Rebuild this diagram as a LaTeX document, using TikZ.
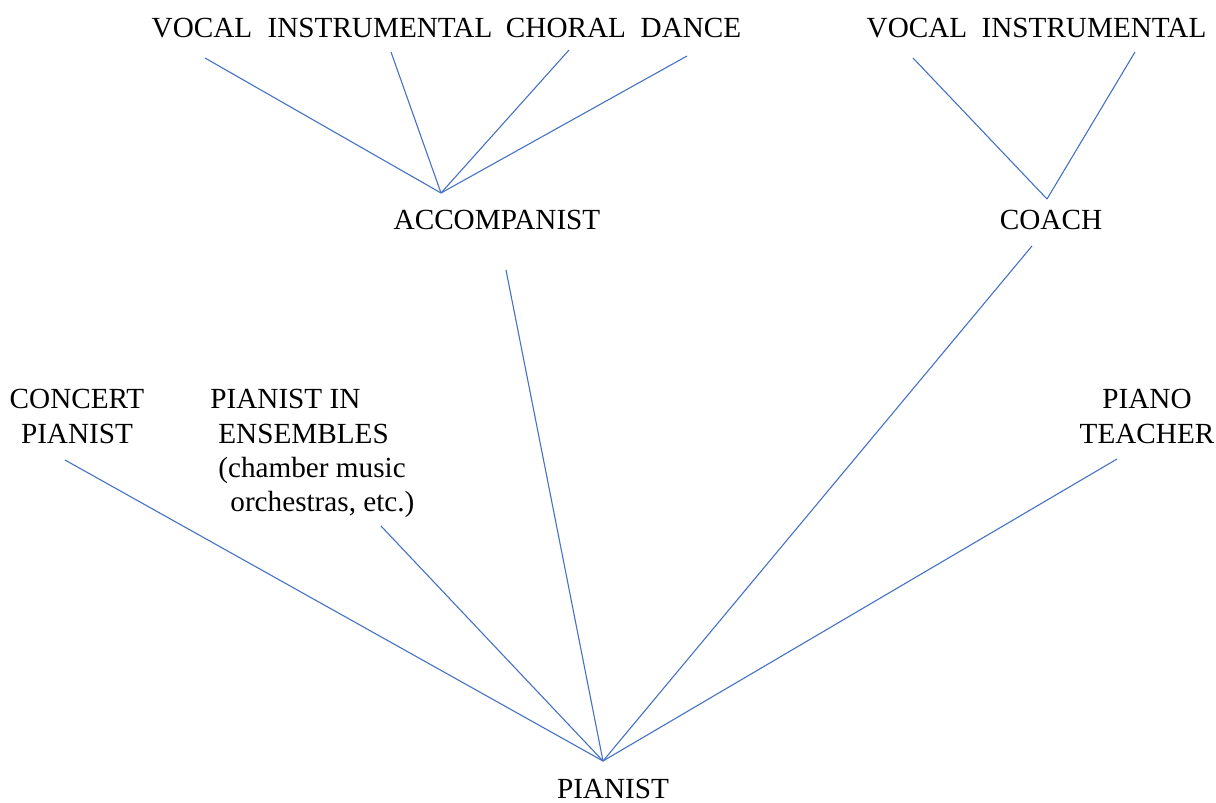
\documentclass[tikz,border=0pt]{standalone}
\usepackage{fontspec}
\setmainfont{Liberation Serif}
\definecolor{lineblue}{RGB}{68,114,196}
\tikzset{
  role/.style={font=\fontsize{14.6}{17.2}\selectfont, inner sep=0pt},
  link/.style={lineblue, line width=0.55pt},
}
\begin{document}
\begin{tikzpicture}[x=0.5pt,y=-0.5pt,line join=bevel]
  \useasboundingbox (0,0) rectangle (1216,803);

  % meeting points
  \coordinate (acc) at (441,193);
  \coordinate (coa) at (1047,199);
  \coordinate (pia) at (603,761);

  % free ends
  \coordinate (e-vocalA) at (205,58);
  \coordinate (e-instrA) at (391,52);
  \coordinate (e-choral) at (569,50);
  \coordinate (e-dance) at (687,56);
  \coordinate (e-vocalB) at (913,58);
  \coordinate (e-instrB) at (1135,52);
  \coordinate (e-concert) at (65,460);
  \coordinate (e-ensemble) at (381,526);
  \coordinate (e-accomp) at (506,270);
  \coordinate (e-coach) at (1032,246);
  \coordinate (e-teacher) at (1117,459);

  \node[role,anchor=base] (vocalA) at (202,37) {VOCAL};
  \node[role,anchor=base] (instrA) at (380,37) {INSTRUMENTAL};
  \node[role,anchor=base] (choral) at (566,37) {CHORAL};
  \node[role,anchor=base] (dance) at (691,37) {DANCE};
  \node[role,anchor=base] (vocalB) at (917,37) {VOCAL};
  \node[role,anchor=base] (instrB) at (1094,37) {INSTRUMENTAL};

  \node[role,anchor=base] (accomp) at (497,229) {ACCOMPANIST};
  \node[role,anchor=base] (coach) at (1051,229) {COACH};

  \node[role,anchor=north,align=center] (concert) at (77,389) {CONCERT\\PIANIST};
  \node[role,anchor=north west,align=left] (ensemble) at (210,389)
    {PIANIST IN\\\hspace*{4pt}ENSEMBLES\\\hspace*{4pt}(chamber music\\\hspace*{10pt}orchestras, etc.)};
  \node[role,anchor=north,align=center] (teacher) at (1147,389) {PIANO\\TEACHER};

  \node[role,anchor=base] (pianist) at (613,798) {PIANIST};

  \draw[link] (e-vocalA) -- (acc);
  \draw[link] (e-instrA) -- (acc);
  \draw[link] (e-choral) -- (acc);
  \draw[link] (e-dance) -- (acc);
  \draw[link] (e-vocalB) -- (coa);
  \draw[link] (e-instrB) -- (coa);

  \draw[link] (e-concert) -- (pia);
  \draw[link] (e-ensemble) -- (pia);
  \draw[link] (e-accomp) -- (pia);
  \draw[link] (e-coach) -- (pia);
  \draw[link] (e-teacher) -- (pia);
\end{tikzpicture}
\end{document}
